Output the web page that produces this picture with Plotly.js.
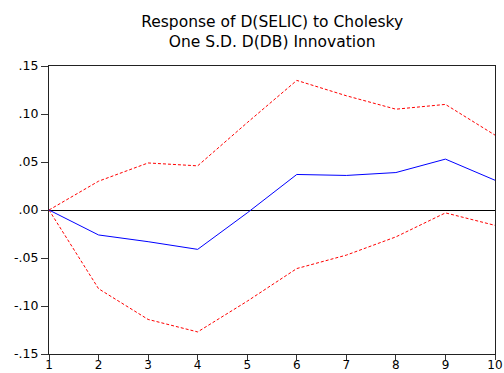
<!DOCTYPE html>
<html>
<head>
<meta charset="utf-8">
<script src="https://cdn.plot.ly/plotly-3.0.1.min.js"></script>
<style>html,body{margin:0;padding:0;background:#fff;}#chart{width:504px;height:373px;}</style>
</head>
<body>
<div id="chart"></div>
<script>
var periods = [1, 2, 3, 4, 5, 6, 7, 8, 9, 10];
var response = [0, -0.026, -0.033, -0.041, -0.003, 0.037, 0.036, 0.039, 0.053, 0.031];
var upperBand = [0, 0.030, 0.049, 0.046, 0.091, 0.135, 0.119, 0.105, 0.110, 0.078];
var lowerBand = [0, -0.082, -0.114, -0.127, -0.095, -0.061, -0.047, -0.028, -0.003, -0.016];
var yTickVals = [0.15, 0.10, 0.05, 0.00, -0.05, -0.10, -0.15];
var yTickText = [".15", ".10", ".05", ".00", "-.05", "-.10", "-.15"];
var xTickVals = [1, 2, 3, 4, 5, 6, 7, 8, 9, 10];
var xTickText = ["1", "2", "3", "4", "5", "6", "7", "8", "9", "10"];

var font = "DejaVu Sans, Arial, sans-serif";

var traces = [
  {x: periods, y: upperBand, type: 'scatter', mode: 'lines',
   line: {color: '#ff0000', width: 1, dash: '3px,2px'}, hoverinfo: 'skip'},
  {x: periods, y: lowerBand, type: 'scatter', mode: 'lines',
   line: {color: '#ff0000', width: 1, dash: '3px,2px'}, hoverinfo: 'skip'},
  {x: periods, y: response, type: 'scatter', mode: 'lines',
   line: {color: '#0000ff', width: 1}, hoverinfo: 'skip'}
];

var layout = {
  width: 504, height: 373,
  margin: {l: 49, r: 9, t: 66, b: 19, pad: 0},
  paper_bgcolor: '#fff', plot_bgcolor: '#fff',
  showlegend: false,
  title: {
    text: 'Response of D(SELIC) to Cholesky<br>One S.D. D(DB) Innovation',
    font: {family: font, size: 15.5, color: '#000'},
    x: 0.54, xanchor: 'center', xref: 'container',
    y: 0.928, yanchor: 'top', yref: 'container'
  },
  xaxis: {
    range: [1, 10], tickmode: 'array', tickvals: xTickVals, ticktext: xTickText,
    showgrid: false, zeroline: false,
    showline: true, linecolor: '#222', linewidth: 1, mirror: true,
    ticks: 'outside', ticklen: 5, tickcolor: '#333', tickwidth: 1,
    ticklabelstandoff: -5,
    tickfont: {family: font, size: 12, color: '#000'}
  },
  yaxis: {
    range: [-0.15, 0.15], tickmode: 'array', tickvals: yTickVals, ticktext: yTickText,
    showgrid: false, zeroline: true, zerolinecolor: '#000', zerolinewidth: 1,
    showline: true, linecolor: '#222', linewidth: 1, mirror: true,
    ticks: 'outside', ticklen: 7, tickcolor: '#333', tickwidth: 1,
    tickfont: {family: font, size: 12.5, color: '#000'}
  }
};

Plotly.newPlot('chart', traces, layout, {staticPlot: true, displayModeBar: false});
</script>
</body>
</html>
